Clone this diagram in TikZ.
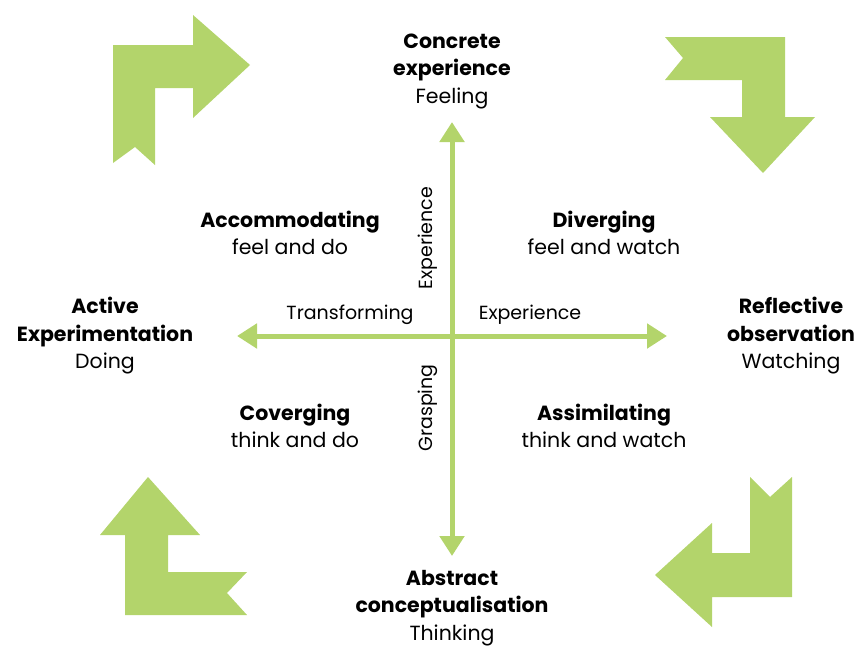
\documentclass[tikz,border=0pt]{standalone}
\usepackage{fontspec}
\setmainfont{Poppins}
\usetikzlibrary{arrows.meta}
\definecolor{leaf}{HTML}{B3D46B}

\begin{document}
\begin{tikzpicture}[x=1pt, y=-1pt,
    every node/.style={font=\fontsize{20.5}{27.5}\selectfont, align=center, inner sep=0pt},
    small/.style={font=\fontsize{19}{27}\selectfont},
    axis/.style={leaf, line width=5pt, {Triangle[length=20pt, width=24pt]}-{Triangle[length=20pt, width=24pt]}},
    turn/.style={fill=leaf}
  ]
  \useasboundingbox (0,0) rectangle (859,648);

  % corner arrows
  \fill[turn] (113,45) -- (193,45) -- (193,15) -- (250,65) -- (193,118) -- (193,88)
    -- (155,88) -- (155,165) -- (135,147) -- (113,163) -- cycle;
  \fill[turn] (665,37) -- (785,37) -- (785,117) -- (815,117) -- (763,173) -- (710,117)
    -- (742,117) -- (742,80) -- (665,80) -- (683,58) -- cycle;
  \fill[turn] (792,477) -- (792,597) -- (712,597) -- (712,627) -- (655,575) -- (712,523)
    -- (712,553) -- (750,553) -- (750,477) -- (770,497) -- cycle;
  \fill[turn] (125,615) -- (125,535) -- (100,535) -- (148,477) -- (200,535) -- (168,535)
    -- (168,572) -- (247,572) -- (227,593) -- (247,615) -- cycle;

  % the cross
  \coordinate (top) at (452,122);
  \coordinate (bottom) at (452,556);
  \coordinate (left) at (237,336);
  \coordinate (right) at (667,336);
  \draw[axis] (bottom) -- (top);
  \draw[axis] (left) -- (right);

  % poles
  \node (concrete) at (452,71) {\textbf{Concrete}\\\textbf{experience}\\Feeling};
  \node (reflective) at (791,336) {\textbf{Reflective}\\\textbf{observation}\\Watching};
  \node (abstract) at (452,608) {\textbf{Abstract}\\\textbf{conceptualisation}\\Thinking};
  \node (active) at (105,336) {\textbf{Active}\\\textbf{Experimentation}\\Doing};

  % quadrants
  \node (accom) at (290,233) {\textbf{Accommodating}\\feel and do};
  \node (diverg) at (604,233) {\textbf{Diverging}\\feel and watch};
  \node (converg) at (295,426) {\textbf{Coverging}\\think and do};
  \node (assim) at (604,426) {\textbf{Assimilating}\\think and watch};

  % axis labels
  \node[small] (transf) at (350,315) {Transforming};
  \node[small] (exph) at (530,315) {Experience};
  \node[small, rotate=90] (expv) at (428,238) {Experience};
  \node[small, rotate=90] (grasp) at (428,408) {Grasping};
\end{tikzpicture}
\end{document}
